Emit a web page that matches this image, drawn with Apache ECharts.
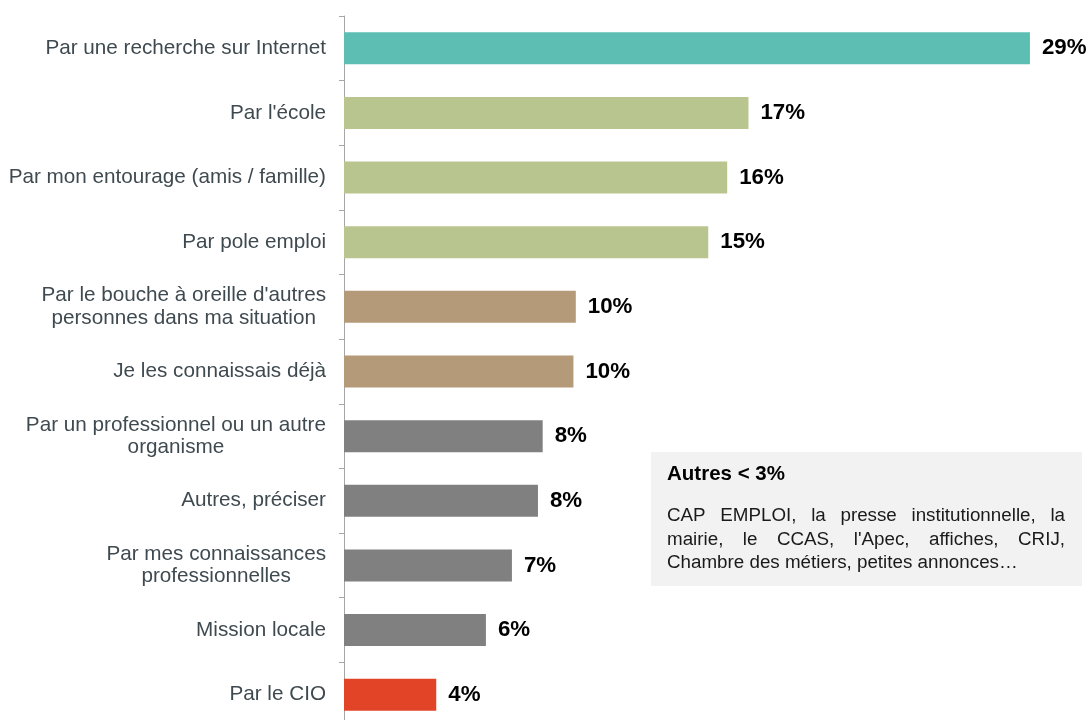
<!DOCTYPE html>
<html>
<head lang="fr">
    <meta charset="UTF-8">
    <title>Canaux de connaissance</title>
    <style>
        html, body { margin: 0; padding: 0; background: #fff; overflow: hidden; }
    </style>
</head>
<body>
<div id="container" style="width:1089px;height:728px;"></div>
<script type="text/javascript" src="https://cdn.jsdelivr.net/npm/echarts@6/dist/echarts.min.js"></script>
<script type="text/javascript">
    // categories, du haut vers le bas
    var categories = [
        "Par une recherche sur Internet",
        "Par l'école",
        "Par mon entourage (amis / famille)",
        "Par pole emploi",
        "Par le bouche à oreille d'autres\npersonnes dans ma situation",
        "Je les connaissais déjà",
        "Par un professionnel ou un autre\norganisme",
        "Autres, préciser",
        "Par mes connaissances\nprofessionnelles",
        "Mission locale",
        "Par le CIO"
    ];
    var values = [29, 17.1, 16.2, 15.4, 9.8, 9.7, 8.4, 8.2, 7.1, 6.0, 3.9];
    var barColors = ["#5dbfb4", "#b9c58f", "#b9c58f", "#b9c58f", "#b59a79", "#b59a79",
        "#808080", "#808080", "#808080", "#808080", "#e24427"];

    var boxTitle = "Autres < 3%";
    var boxLines = [
        "CAP EMPLOI, la presse institutionnelle, la",
        "mairie, le CCAS, l'Apec, affiches, CRIJ,",
        "Chambre des métiers, petites annonces…"
    ];

    var font = "Arial, 'Liberation Sans', sans-serif";
    var bodyFont = "18.8px " + font;
    var dom = document.getElementById("container");
    var myChart = echarts.init(dom);

    // texte justifie dans l'encadre
    var ctx = document.createElement('canvas').getContext('2d');
    ctx.font = bodyFont;
    var boxX = 667, boxW = 398, lineY = 516, lineH = 23.5;
    var textEls = [];
    boxLines.forEach(function (line, i) {
        var words = line.split(' ');
        var y = lineY + i * lineH;
        if (i == boxLines.length - 1) {
            textEls.push({type: 'text', x: boxX, y: y, style: {text: line, font: bodyFont,
                fill: '#1a1a1a', verticalAlign: 'middle'}});
            return;
        }
        var total = 0;
        words.forEach(function (w) { total += ctx.measureText(w).width; });
        var gap = (boxW - total) / (words.length - 1);
        var x = boxX;
        words.forEach(function (w) {
            textEls.push({type: 'text', x: x, y: y, style: {text: w, font: bodyFont,
                fill: '#1a1a1a', verticalAlign: 'middle'}});
            x += ctx.measureText(w).width + gap;
        });
    });

    var option = {
        animation: false,
        grid: {left: 344, top: 16, height: 711, width: 709.6},
        xAxis: {
            type: 'value', min: 0, max: 30, show: false
        },
        yAxis: {
            type: 'category',
            inverse: true,
            data: categories,
            axisLine: {lineStyle: {color: '#a6a6a6', width: 1}},
            axisTick: {show: true, length: 5, lineStyle: {color: '#a6a6a6'}},
            axisLabel: {
                margin: 18,
                formatter: function (v) {
                    return v.split('\n').map(function (s) { return '{c|' + s + '}'; }).join('\n');
                },
                rich: {
                    c: {align: 'center', fontSize: 20.7, lineHeight: 22.5, color: '#3f4a50', fontFamily: font}
                }
            }
        },
        series: [{
            type: 'bar',
            barWidth: 32,
            data: values.map(function (v, i) {
                return {value: v, itemStyle: {color: barColors[i]}};
            }),
            label: {
                show: true,
                position: 'right',
                distance: 12,
                fontSize: 22.3,
                fontWeight: 'bold',
                color: '#000',
                fontFamily: font,
                formatter: function (p) { return Math.round(p.value) + '%'; }
            }
        }],
        graphic: [
            {type: 'rect', shape: {x: 651, y: 452, width: 431, height: 134}, style: {fill: '#f2f2f2'}},
            {type: 'text', x: 667, y: 474, style: {text: boxTitle, font: "bold 20.5px " + font,
                fill: '#000', verticalAlign: 'middle'}}
        ].concat(textEls)
    };
    myChart.setOption(option);
</script>
</body>
</html>
